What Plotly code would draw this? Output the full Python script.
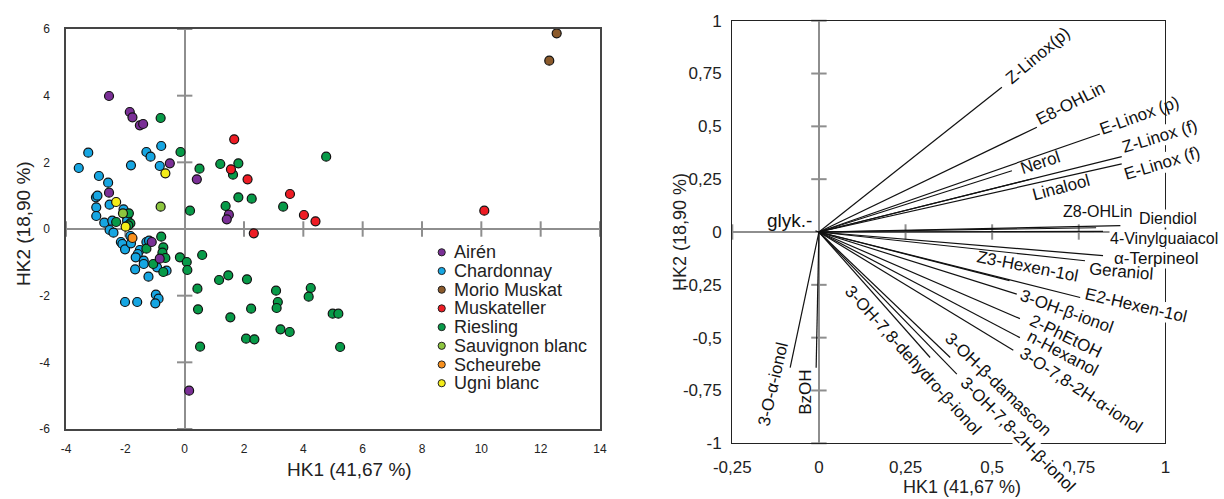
import plotly.graph_objects as go

W, H = 1224, 499

# ---------------- data: scores (left) ----------------
varieties = ["Airén", "Chardonnay", "Morio Muskat", "Muskateller", "Riesling",
             "Sauvignon blanc", "Scheurebe", "Ugni blanc"]
variety_colors = ["#7a2f96", "#16a6e2", "#8b5a2b", "#ee1c24", "#079a48",
                  "#8dc63f", "#f7901e", "#f4ec19"]

airen_x = [-2.55, -1.85, -1.76, -1.51, -1.40, -0.50, -2.55, 0.41, 1.49, 1.42, -1.11, -0.84, 0.15]
airen_y = [3.99, 3.51, 3.35, 3.11, 3.15, 1.97, 1.09, 1.49, 0.43, 0.29, -0.39, -0.89, -4.85]

chardonnay_x = [-3.25, -3.57, -2.89, -2.58, -1.81, -1.29, -1.15, -0.79, -0.84, -2.99,
                -2.94, -2.53, -2.98, -2.98, -2.71, -2.44, -2.06, -1.94, -1.94, -2.53,
                -2.40, -2.15, -2.10, -2.01, -1.83, -1.81, -1.51, -1.58, -1.65, -1.38,
                -1.38, -1.67, -1.22, -1.29, -1.20, -0.93, -0.61, -2.01, -1.60, -0.97,
                -0.88, -0.99]
chardonnay_y = [2.29, 1.83, 1.59, 1.39, 1.91, 2.31, 2.17, 2.49, 1.89, 0.95,
                1.00, 0.73, 0.65, 0.39, 0.19, 0.25, 0.59, 0.35, 0.25, -0.03,
                -0.11, -0.39, -0.45, -0.61, -0.21, -0.43, -0.63, -0.75, -0.85, -0.95,
                -1.05, -1.21, -1.43, -0.39, -0.35, -1.15, -1.25, -2.19, -2.19, -1.97,
                -2.09, -2.23]

morio_x = [12.29, 12.54]
morio_y = [5.05, 5.87]

muskateller_x = [1.67, 1.56, 2.12, 2.33, 3.55, 4.02, 4.41, 10.1]
muskateller_y = [2.69, 1.79, 1.49, -0.13, 1.05, 0.42, 0.23, 0.55]

riesling_x = [-0.81, -0.14, 0.50, -2.31, -1.88, -1.83, -1.90, 0.18, -1.29, -0.79,
              -0.72, -0.75, -0.65, -1.06, -0.72, -0.16, 0.07, 0.09, 0.59, 1.16,
              1.47, 2.10, 0.43, 0.45, 1.54, 2.24, 3.08, 3.14, 3.10, 3.23,
              3.54, 2.07, 2.35, 0.52, 4.25, 4.18, 4.99, 5.18, 5.24, 1.20,
              1.81, 1.63, 1.81, 2.26, 1.38, 3.32, 4.77]
riesling_y = [3.33, 2.31, 1.81, 0.21, 0.47, 0.17, 0.11, 0.55, -0.59, -0.23,
              -0.55, -0.71, -0.87, -1.05, -1.29, -0.85, -0.99, -1.23, -0.78, -1.53,
              -1.39, -1.51, -1.79, -2.41, -2.65, -2.39, -1.85, -2.19, -2.37, -3.01,
              -3.09, -3.29, -3.31, -3.53, -1.77, -2.03, -2.54, -2.54, -3.54, 1.95,
              1.97, 1.63, 0.95, 0.91, 0.69, 0.67, 2.17]

sauvignon_x = [-2.08, -0.81]
sauvignon_y = [0.47, 0.67]

scheurebe_x = [-1.76]
scheurebe_y = [-0.27]

ugni_x = [-0.65, -2.31, -1.99]
ugni_y = [1.67, 0.81, 0.07]

left_xticks = [-4, -2, 0, 2, 4, 6, 8, 10, 12, 14]
left_yticks = [-6, -4, -2, 0, 2, 4, 6]

# ---------------- data: loadings (right) ----------------
compounds = ["Z-Linox(p)", "E8-OHLin", "E-Linox (p)", "Z-Linox (f)", "E-Linox (f)",
             "Nerol", "Linalool", "Z8-OHLin", "Diendiol", "4-Vinylguaiacol",
             "α-Terpineol", "Geraniol", "Z3-Hexen-1ol", "E2-Hexen-1ol", "3-OH-β-ionol",
             "2-PhEtOH", "n-Hexanol", "3-O-7,8-2H-α-ionol", "3-OH-β-damascon",
             "3-OH-7,8-2H-β-ionol", "3-OH-7,8-dehydro-β-ionol", "3-O-α-ionol", "BzOH",
             "glyk.-"]
loading_x = [0.528, 0.629, 0.811, 0.874, 0.874,
             0.557, 0.614, 0.800, 0.870, 0.820,
             0.820, 0.768, 0.550, 0.754, 0.571,
             0.580, 0.580, 0.561, 0.379,
             0.398, 0.321, -0.083, -0.008,
             -0.010]
loading_y = [0.685, 0.496, 0.464, 0.357, 0.322,
             0.290, 0.251, 0.020, 0.030, 0.003,
             -0.112, -0.136, -0.230, -0.310, -0.294,
             -0.410, -0.500, -0.560, -0.594,
             -0.673, -0.594, -0.642, -0.642,
             0.005]

right_xticks = [-0.25, 0, 0.25, 0.5, 0.75, 1]
right_xticktext = ["-0,25", "0", "0,25", "0,5", "0,75", "1"]
right_yticks = [-1, -0.75, -0.5, -0.25, 0, 0.25, 0.5, 0.75, 1]
right_yticktext = ["-1", "-0,75", "-0,5", "-0,25", "0", "0,25", "0,5", "0,75", "1"]

# label placement style: (x shift px, y shift px downwards, text angle, font size)
label_style = {
    "Z-Linox(p)": (36, -32, -40, 17),
    "E8-OHLin": (34, -24, -27, 17),
    "E-Linox (p)": (40, -18, -20, 17),
    "Z-Linox (f)": (38, -20, -17, 17),
    "E-Linox (f)": (40, 0, -17, 17),
    "Nerol": (29, -8, -18, 17),
    "Linalool": (30, 9, -15, 17),
    "Z8-OHLin": (1, -16, 0, 16),
    "Diendiol": (48, -7, 0, 16),
    "4-Vinylguaiacol": (61, 7, 0, 16),
    "α-Terpineol": (53, 3, 0, 17),
    "Geraniol": (36, 11, 5, 17),
    "Z3-Hexen-1ol": (18, -14, 11, 17),
    "E2-Hexen-1ol": (56, 8, 13, 17),
    "3-OH-β-ionol": (50, 17, 20, 17),
    "2-PhEtOH": (46, 18, 26, 17),
    "n-Hexanol": (43, 16, 28, 17),
    "3-O-7,8-2H-α-ionol": (68, 40, 33, 17),
    "3-OH-β-damascon": (48, 27, 44, 17),
    "3-OH-7,8-2H-β-ionol": (61, 60, 45, 17),
    "3-OH-7,8-dehydro-β-ionol": (-17, 3, 48, 17),
    "3-O-α-ionol": (-17, 17, -77, 17),
    "BzOH": (-11, 25, -90, 17),
    "glyk.-": (-26, -10, 0, 19),
}
masked_labels = {"Z-Linox (f)", "E-Linox (f)", "Diendiol", "4-Vinylguaiacol",
                 "α-Terpineol", "E2-Hexen-1ol", "3-OH-7,8-2H-β-ionol"}

# ---------------- figure ----------------
FONT = "Liberation Sans, Arial, sans-serif"
AXGRAY = "#8e8e8e"

fig = go.Figure()

series = {
    "Airén": (airen_x, airen_y),
    "Chardonnay": (chardonnay_x, chardonnay_y),
    "Morio Muskat": (morio_x, morio_y),
    "Muskateller": (muskateller_x, muskateller_y),
    "Riesling": (riesling_x, riesling_y),
    "Sauvignon blanc": (sauvignon_x, sauvignon_y),
    "Scheurebe": (scheurebe_x, scheurebe_y),
    "Ugni blanc": (ugni_x, ugni_y),
}
color_of = dict(zip(varieties, variety_colors))

# tick crosses on the zero lines (left)
fig.add_trace(go.Scatter(
    x=[v for v in left_xticks if v != 0], y=[0] * (len(left_xticks) - 1),
    mode="markers", marker=dict(symbol="line-ns", size=11, line=dict(color=AXGRAY, width=2)),
    hoverinfo="skip", showlegend=False, xaxis="x", yaxis="y", cliponaxis=False))
fig.add_trace(go.Scatter(
    x=[0] * (len(left_yticks) - 1), y=[v for v in left_yticks if v != 0],
    mode="markers", marker=dict(symbol="line-ew", size=11, line=dict(color=AXGRAY, width=2)),
    hoverinfo="skip", showlegend=False, xaxis="x", yaxis="y", cliponaxis=False))

draw_order = ["Chardonnay", "Riesling", "Airén", "Muskateller", "Morio Muskat",
              "Sauvignon blanc", "Scheurebe", "Ugni blanc"]
for name in draw_order:
    xs, ys = series[name]
    fig.add_trace(go.Scatter(
        x=xs, y=ys, mode="markers", name=name,
        marker=dict(size=9, color=color_of[name], line=dict(color="#111", width=1.2)),
        showlegend=False, xaxis="x", yaxis="y", cliponaxis=False))

# tick crosses on the zero lines (right)
rxt = [v for v in right_xticks if v != 0]
ryt = [v for v in right_yticks if v != 0]
fig.add_trace(go.Scatter(
    x=rxt, y=[0] * len(rxt), mode="markers",
    marker=dict(symbol="line-ns", size=11, line=dict(color=AXGRAY, width=2)),
    hoverinfo="skip", showlegend=False, xaxis="x2", yaxis="y2", cliponaxis=False))
fig.add_trace(go.Scatter(
    x=[0] * len(ryt), y=ryt, mode="markers",
    marker=dict(symbol="line-ew", size=11, line=dict(color=AXGRAY, width=2)),
    hoverinfo="skip", showlegend=False, xaxis="x2", yaxis="y2", cliponaxis=False))

# loading vectors
vx, vy = [], []
for lx, ly in zip(loading_x, loading_y):
    vx += [0, lx, None]
    vy += [0, ly, None]
fig.add_trace(go.Scatter(x=vx, y=vy, mode="lines", line=dict(color="#111", width=1.2),
                         hoverinfo="skip", showlegend=False, xaxis="x2", yaxis="y2"))

annotations = []
for name, lx, ly in zip(compounds, loading_x, loading_y):
    dx, dy, ang, fs = label_style[name]
    ann = dict(x=lx, y=ly, xref="x2", yref="y2", text=name, showarrow=False,
               xanchor="center", yanchor="middle", xshift=dx, yshift=-dy,
               textangle=ang, font=dict(family=FONT, size=fs, color="#111"))
    if name in masked_labels:
        ann.update(bgcolor="white", borderpad=0)
    annotations.append(ann)

# manual legend
leg_x_px, leg_y0_px, leg_dy_px = 441.7, 252.3, 18.7
shapes = []
for i, (name, col) in enumerate(zip(varieties, variety_colors)):
    py = 1 - (leg_y0_px + i * leg_dy_px) / H
    shapes.append(dict(type="circle", xref="paper", yref="paper",
                       xsizemode="pixel", ysizemode="pixel",
                       xanchor=leg_x_px / W, yanchor=py,
                       x0=-3.6, x1=3.6, y0=-3.6, y1=3.6,
                       fillcolor=col, line=dict(color="#222", width=1)))
    annotations.append(dict(x=(leg_x_px + 10) / W, y=py, xref="paper", yref="paper",
                            text=name, showarrow=False, xanchor="left", yanchor="middle",
                            font=dict(family=FONT, size=18, color="#222")))

# axis titles
titles = [
    ("HK1 (41,67 %)", 349, 469, 0, 19),
    ("HK2 (18,90 %)", 23, 224, -90, 19),
    ("HK1 (41,67 %)", 962, 487, 0, 18),
    ("HK2 (18,90 %)", 680, 232, -90, 18),
]
for txt, px, py, ang, fs in titles:
    annotations.append(dict(x=px / W, y=1 - py / H, xref="paper", yref="paper",
                            text=txt, showarrow=False, textangle=ang,
                            xanchor="center", yanchor="middle",
                            font=dict(family=FONT, size=fs, color="#222")))

axis_common = dict(showgrid=False, zeroline=True, zerolinecolor=AXGRAY, zerolinewidth=2,
                   showline=True, mirror=True, ticks="", fixedrange=True, automargin=False)

fig.update_layout(
    width=W, height=H, margin=dict(l=0, r=0, t=0, b=0, autoexpand=False),
    paper_bgcolor="white", plot_bgcolor="white", showlegend=False,
    font=dict(family=FONT, color="#222"),
    xaxis=dict(domain=[66 / W, 600 / W], range=[-4, 14], tickvals=left_xticks,
               ticktext=[str(v) for v in left_xticks], anchor="y",
               linecolor="#454545", linewidth=1.5,
               tickfont=dict(family=FONT, size=12, color="#222"),
               ticklabelstandoff=8, **axis_common),
    yaxis=dict(domain=[(H - 429) / H, (H - 29) / H], range=[-6, 6], tickvals=left_yticks,
               ticktext=[str(v) for v in left_yticks], anchor="x",
               linecolor="#454545", linewidth=1.5,
               tickfont=dict(family=FONT, size=12, color="#222"),
               ticklabelstandoff=12, **axis_common),
    xaxis2=dict(domain=[732.3 / W, 1165.4 / W], range=[-0.25, 1], tickvals=right_xticks,
                ticktext=right_xticktext, anchor="y2",
                linecolor="#222", linewidth=1.4,
                tickfont=dict(family=FONT, size=17, color="#222"),
                ticklabelstandoff=8, **axis_common),
    yaxis2=dict(domain=[(H - 443.3) / H, (H - 20.7) / H], range=[-1, 1], tickvals=right_yticks,
                ticktext=right_yticktext, anchor="x2",
                linecolor="#222", linewidth=1.4,
                tickfont=dict(family=FONT, size=17, color="#222"),
                ticklabelstandoff=6, **axis_common),
    annotations=annotations,
    shapes=shapes,
)

fig.write_html("out.html",
               config={"displayModeBar": False, "staticPlot": False},
               post_script="document.body.style.margin='0';document.body.style.padding='0';")
